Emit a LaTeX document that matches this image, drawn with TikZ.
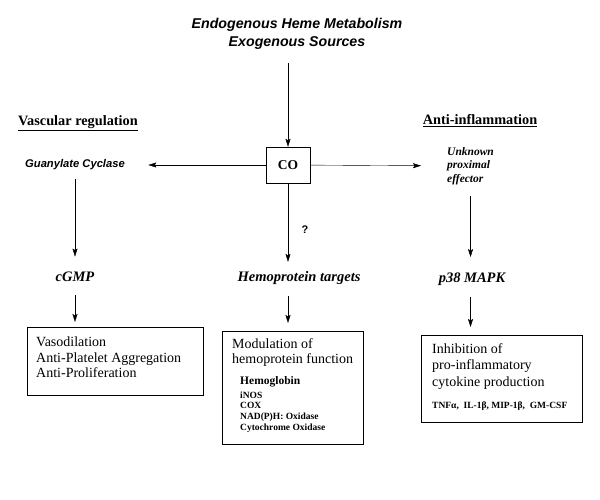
\documentclass[tikz,border=0pt]{standalone}
\usepackage{fontspec}
\setmainfont{Liberation Serif}
\newfontfamily\arialfont{Liberation Sans}
\usetikzlibrary{arrows.meta, positioning}
\tikzset{
    ->, % every connector is an arrow
    >={Stealth[length=8pt, width=5pt, inset=1.5pt]}, % narrow filled heads
    line width=0.8pt,
    source/.style={font=\arialfont\fontsize{14.2}{18}\selectfont\bfseries\itshape, align=center},
    heading/.style={font=\fontsize{14.3}{16}\selectfont\bfseries},
    enzyme/.style={font=\arialfont\fontsize{11.2}{13}\selectfont\bfseries\itshape},
    effector/.style={font=\fontsize{11.5}{13.5}\selectfont\bfseries\itshape, align=left, inner sep=2pt},
    signal/.style={font=\fontsize{14.5}{16}\selectfont\bfseries\itshape},
    hub/.style={draw, minimum width=44pt, minimum height=36pt, font=\fontsize{13.5}{16}\selectfont\bfseries},
    query/.style={font=\arialfont\fontsize{11}{13}\selectfont\bfseries},
    outcome/.style={draw, anchor=north west, inner sep=0pt},
    outcometext/.style={font=\fontsize{14}{15.5}\selectfont, align=left, anchor=north west, inner sep=0pt},
    targets/.style={font=\fontsize{9.5}{10.7}\selectfont\bfseries, align=left, anchor=north west, inner sep=0pt},
}
\begin{document}
\begin{tikzpicture}[x=1pt, y=-1pt]
\useasboundingbox (0,0) rectangle (600,500);

% sources and CO
\node[source] (src) at (297,34) {Endogenous Heme Metabolism\\Exogenous Sources};
\node[hub] (co) at (288,165) {CO};

% headings
\node[heading] (vasc) at (78,123) {\underline{Vascular regulation}};
\node[heading] (infl) at (480,121) {\underline{Anti-inflammation}};

% first targets
\node[enzyme] (gc) at (75,165) {Guanylate Cyclase};
\node[effector, anchor=west] (eff) at (445,166) {Unknown\\proximal\\effector};
\node[query] (q) at (305,230) {?};

% second messengers
\node[signal] (cgmp) at (75,277) {cGMP};
\node[signal] (hemo) at (299,278) {Hemoprotein targets};
\node[signal] (p38) at (472,279) {p38 MAPK};

% outcome boxes
\node[outcome, minimum width=176pt, minimum height=68pt] (vaso) at (27,327) {};
\node[outcometext] (vasotext) at ([xshift=9pt, yshift=-10pt]vaso.north west)
    {Vasodilation\\Anti-Platelet Aggregation\\Anti-Proliferation};

\node[outcome, minimum width=141pt, minimum height=113pt] (modbox) at (222,331) {};
\node[outcometext, font=\fontsize{14}{15}\selectfont] (modtext) at ([xshift=10pt, yshift=-7pt]modbox.north west)
    {Modulation of\\hemoprotein function};
\node[font=\fontsize{11.5}{13}\selectfont\bfseries, anchor=north west, inner sep=0pt] (hb)
    at ([xshift=18pt, yshift=-45pt]modbox.north west) {Hemoglobin};
\node[targets] (enz) at ([yshift=-4.5pt]hb.south west)
    {iNOS\\COX\\NAD(P)H: Oxidase\\Cytochrome Oxidase};

\node[outcome, minimum width=161pt, minimum height=87pt] (inhbox) at (421,335) {};
\node[outcometext, font=\fontsize{14}{16.5}\selectfont] (inhtext) at ([xshift=11pt, yshift=-8pt]inhbox.north west)
    {Inhibition of\\pro-inflammatory\\cytokine production};
\node[targets] (cyto) at ([xshift=11pt, yshift=-67pt]inhbox.north west)
    {TNFα,\ \ IL-1β,\ MIP-1β,\ \ GM-CSF};

% connectors
\draw[shorten <=10pt] (co |- src.south) -- (co);
\draw[shorten >=20pt] (co) -- (gc);
\draw[shorten >=24pt] (co) -- (eff);
\draw[shorten <=5pt, shorten >=12pt] (gc) -- (cgmp);
\draw[shorten <=10pt, shorten >=5pt] (cgmp) -- (cgmp |- vaso.north);
\draw[shorten >=6pt] (co) -- (co |- hemo.north);
\draw[shorten <=8pt, shorten >=8pt] (co |- hemo.south) -- (co |- modbox.north);
\draw[shorten <=9pt, shorten >=12pt] (eff) -- (eff |- p38.north);
\draw[shorten <=8pt, shorten >=8pt] (eff |- p38.south) -- (eff |- inhbox.north);
\end{tikzpicture}
\end{document}
